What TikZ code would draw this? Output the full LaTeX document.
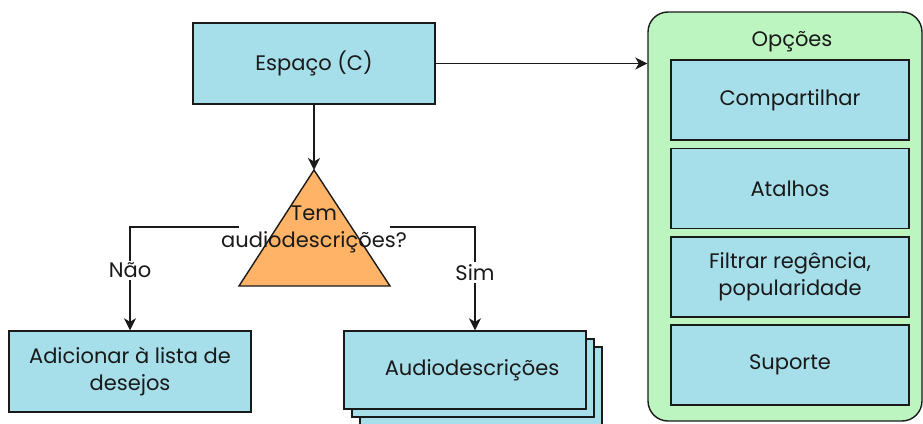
\documentclass[tikz,border=0pt]{standalone}
\usepackage{fontspec}
\setmainfont{Poppins}
\usetikzlibrary{arrows.meta}
\definecolor{boxblue}{HTML}{A6DEEA}
\definecolor{panelgreen}{HTML}{BDF5C1}
\definecolor{decorange}{HTML}{FFB366}
\definecolor{inkline}{HTML}{1A1A1A}
\tikzset{
  every node/.style={font=\fontsize{21}{27}\selectfont, text=black!90},
  card/.style={draw=inkline, fill=boxblue, line width=1.4pt, align=center,
    minimum width=242pt, minimum height=81pt, inner sep=0pt},
  optbox/.style={card, minimum width=238pt, minimum height=80pt},
  flow/.style={draw=inkline, line width=1.4pt,
    -{Stealth[length=12pt,width=12pt,inset=3.5pt]}},
  tag/.style={fill=white, inner sep=2pt}
}
\begin{document}
\begin{tikzpicture}[x=1pt,y=-1pt]
\useasboundingbox (0,0) rectangle (923,423);
\begin{scope}
\clip (0,0) rectangle (923,423);

% options panel
\node[draw=inkline, fill=panelgreen, line width=1.4pt, rounded corners=20pt,
  minimum width=274pt, minimum height=409pt, inner sep=0pt] (panel) at (785,216.5) {};
\node (paneltitle) at (792,42) {Opções};
\node[optbox] (share) at (790,100) {Compartilhar};
\node[optbox] (shortcuts) at (790,188.5) {Atalhos};
\node[optbox] (filter) at (790,277) {Filtrar regência,\\popularidade};
\node[optbox] (support) at (790,365) {Suporte};

% main space
\node[card] (space) at (314,63.5) {Espaço (C)};
\draw[flow] (space.east) -- (space.east -| panel.west);

% decision
\coordinate (apex) at (314,170);
\coordinate (baseR) at (390,286);
\coordinate (baseL) at (239,286);
\draw[draw=inkline, fill=decorange, line width=1.4pt, line join=miter] (apex) -- (baseR) -- (baseL) -- cycle;
\node[align=center] (question) at (314,229) {Tem\\audiodescrições?};
\draw[flow] (space.south) -- (apex);
\coordinate (qL) at (239,227);
\coordinate (qR) at (390,227);

% outcomes
\node[card] (wish) at (130,371.5) {Adicionar à lista de\\desejos};
\node[card, minimum height=78pt] (stackC) at (481,386) {};
\node[card, minimum height=78pt] (stackB) at (473,378) {};
\node[card, minimum height=78pt] (audio) at (465,370) {};
\node (audiotext) at (472,370) {Audiodescrições};

\draw[flow] (qL) -| (wish.north) node[pos=0.71, tag] (no) {Não};
\draw[flow] (qR) -| ([xshift=10pt]audio.north) node[pos=0.72, tag] (yes) {Sim};
\end{scope}
\end{tikzpicture}
\end{document}
